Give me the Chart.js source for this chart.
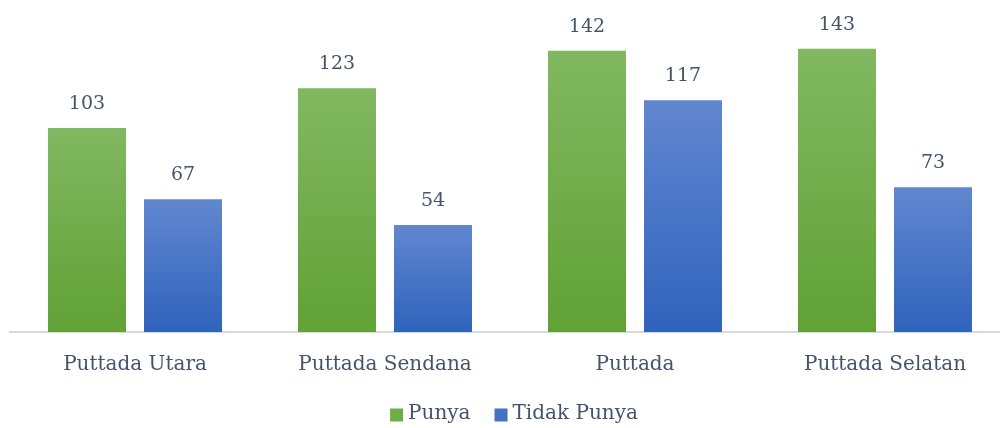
<!DOCTYPE html>
<html lang="id">
<head>
  <meta charset="UTF-8">
  <title>Punya / Tidak Punya</title>
  <script src="https://cdn.jsdelivr.net/npm/chart.js"></script>
  <style>
    html, body { margin: 0; padding: 0; background: #fff; overflow: hidden; }
    #wrap { width: 1010px; height: 428px; }
  </style>
</head>
<body>
  <div id="wrap"><canvas id="barChart"></canvas></div>
  <script>
    const categories = ['Puttada Utara', 'Puttada Sendana', 'Puttada', 'Puttada Selatan'];
    const punya = [103, 123, 142, 143];
    const tidakPunya = [67, 54, 117, 73];
    const seriesNames = ['Punya', 'Tidak Punya'];

    const textColor = '#44546a';
    const fontFamily = '"DejaVu Serif", serif';
    const swatch = ['#70ad47', '#4472c4'];

    // each bar gets its own vertical gradient, lighter at the top
    function barGradient(top, bottom) {
      return function (ctx) {
        const chart = ctx.chart;
        const y = chart.scales.y;
        if (!chart.chartArea || !y || ctx.type !== 'data') return bottom;
        const v = ctx.parsed ? ctx.parsed.y : ctx.raw;
        const y0 = y.getPixelForValue(v);
        const y1 = y.getPixelForValue(0);
        const g = chart.ctx.createLinearGradient(0, y0, 0, y1);
        g.addColorStop(0, top);
        g.addColorStop(1, bottom);
        return g;
      };
    }

    const valueLabels = {
      id: 'valueLabels',
      afterDatasetsDraw(chart) {
        const c = chart.ctx;
        c.save();
        c.fillStyle = textColor;
        c.font = '19px ' + fontFamily;
        c.textAlign = 'center';
        c.textBaseline = 'middle';
        chart.data.datasets.forEach((ds, i) => {
          chart.getDatasetMeta(i).data.forEach((bar, j) => {
            c.fillText(ds.data[j], bar.x, bar.y - 24);
          });
        });
        c.restore();
      }
    };

    // legend drawn by hand so the spacing follows the original
    const bottomLegend = {
      id: 'bottomLegend',
      afterDraw(chart) {
        const c = chart.ctx;
        c.save();
        c.font = '20px ' + fontFamily;
        c.textBaseline = 'middle';
        const box = 13, gapText = 5, gapItem = 24;
        const widths = seriesNames.map(t => c.measureText(t).width);
        let total = 0;
        widths.forEach((w, i) => { total += box + gapText + w + (i ? gapItem : 0); });
        let x = 514 - total / 2;
        const y = 414;
        seriesNames.forEach((t, i) => {
          c.fillStyle = swatch[i];
          c.fillRect(x, y - box / 2 + 1, box, box);
          x += box + gapText;
          c.fillStyle = textColor;
          c.fillText(t, x, y);
          x += widths[i] + gapItem;
        });
        c.restore();
      }
    };

    new Chart(document.getElementById('barChart'), {
      type: 'bar',
      data: {
        labels: categories,
        datasets: [{
          label: seriesNames[0],
          data: punya,
          backgroundColor: barGradient('#81b861', '#61a135'),
          categoryPercentage: 0.768,
          barPercentage: 0.8125
        }, {
          label: seriesNames[1],
          data: tidakPunya,
          backgroundColor: barGradient('#6287d0', '#2f63bc'),
          categoryPercentage: 0.768,
          barPercentage: 0.8125
        }]
      },
      options: {
        responsive: true,
        maintainAspectRatio: false,
        animation: false,
        layout: { padding: { left: 10, right: 0, top: 15, bottom: 38 } },
        plugins: {
          tooltip: { enabled: false },
          legend: { display: false }
        },
        scales: {
          x: {
            grid: { display: false },
            border: { display: true, color: '#d9d9d9', width: 2 },
            ticks: {
              color: textColor,
              font: { family: fontFamily, size: 20 },
              padding: 13
            }
          },
          y: {
            display: false,
            min: 0,
            max: 160
          }
        }
      },
      plugins: [valueLabels, bottomLegend]
    });
  </script>
</body>
</html>
